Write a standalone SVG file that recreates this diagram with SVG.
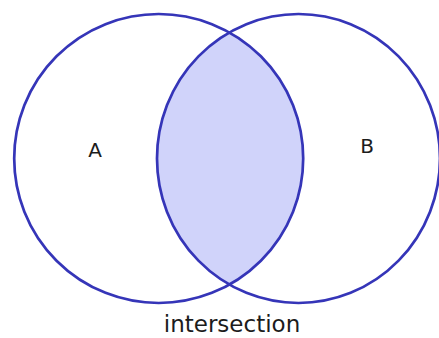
<svg xmlns="http://www.w3.org/2000/svg" width="439" height="338" viewBox="0 0 439 338">
<style>
.ring{fill:none;stroke:#3535b8;stroke-width:2.7}
.lbl{font-family:"DejaVu Sans",Verdana,sans-serif;fill:#1c1c1c;text-anchor:middle}
</style>
<defs>
<clipPath id="clipB"><ellipse cx="298.5" cy="158.5" rx="141.5" ry="144.5"/></clipPath>
</defs>
<rect width="439" height="338" fill="#fff"/>
<g id="intersection">
<circle cx="158.7" cy="158.5" r="144.5" fill="#d0d3fa" clip-path="url(#clipB)"/>
</g>
<g id="setA">
<circle class="ring" cx="158.7" cy="158.5" r="144.5"/>
<text class="lbl" x="95" y="157" font-size="20">A</text>
</g>
<g id="setB">
<ellipse class="ring" cx="298.5" cy="158.5" rx="141.5" ry="144.5"/>
<text class="lbl" x="367" y="153" font-size="20">B</text>
</g>
<g id="connectors"></g>
<text class="lbl" x="232" y="332" font-size="23">intersection</text>
</svg>
